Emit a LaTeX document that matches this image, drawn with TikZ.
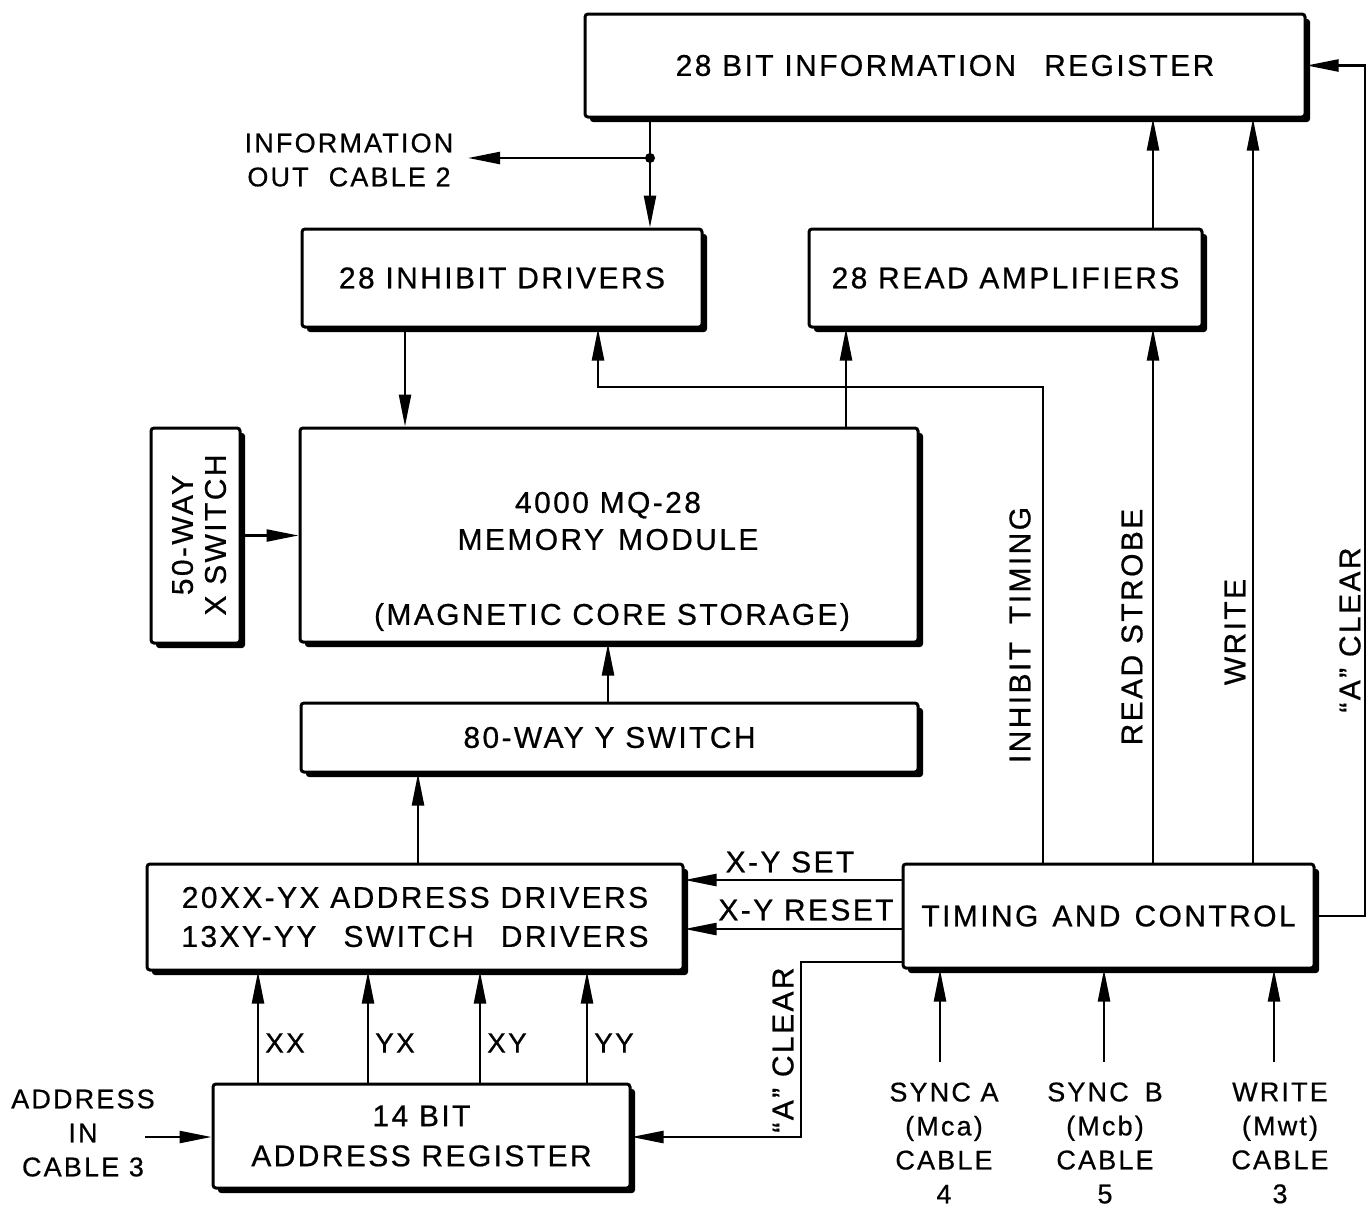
\documentclass[tikz,border=0pt]{standalone}
\usepackage{fontspec}
\setmainfont{Liberation Sans}[LetterSpace=8,FakeBold=0.6]
\usetikzlibrary{shadows,arrows.meta,calc}
\newcommand{\wgap}[1][24pt]{\hspace{#1}}
\tikzset{
 box/.style={draw, line width=3pt, fill=white, rounded corners=3pt, inner sep=0pt, align=center,
   drop shadow={shadow xshift=5pt, shadow yshift=-5pt, opacity=1, fill=black}},
 ln/.style={line width=2.4pt},
 arr/.style={line width=2.4pt, -{Triangle[length=32pt,width=12pt]}},
 lbl/.style={inner sep=0pt, align=center},
 olbl/.style={inner sep=0pt, align=center, font=\fontsize{27}{34}\selectfont},
 sig/.style={inner sep=0pt, anchor=west, font=\fontsize{28}{33}\selectfont},
}
\begin{document}
\begin{tikzpicture}[x=1pt,y=-1pt, font=\fontsize{30}{33}\selectfont]
\useasboundingbox (0,0) rectangle (1368,1210);
\fill[white] (0,0) rectangle (1368,1210);
% boxes
\node[box, minimum width=720pt, minimum height=103pt] (info) at (945,65.5) {28 BIT INFORMATION\wgap[28pt]REGISTER};
\node[box, minimum width=400pt, minimum height=98pt] (inh) at (502,278) {28 INHIBIT DRIVERS};
\node[box, minimum width=393pt, minimum height=98pt] (read) at (1005.5,278) {28 READ AMPLIFIERS};
\node[box, minimum width=618pt, minimum height=214pt] (mem) at (609,535) {};
\node[lbl] (memt1) at (608,521) {4000 MQ-28\\[4pt]MEMORY\wgap[14pt]MODULE};
\node[lbl] (memt2) at (612,617) {(MAGNETIC CORE STORAGE)};
\node[box, minimum width=89pt, minimum height=215pt] (xsw) at (195.5,535.5) {};
\node[lbl, rotate=90] (xswt) at (199,535) {50-WAY\\X SWITCH};
\node[box, minimum width=617pt, minimum height=69pt] (ysw) at (609.5,737.5) {80-WAY Y SWITCH};
\node[box, minimum width=536pt, minimum height=106pt] (adrv) at (415,917) {20XX-YX ADDRESS DRIVERS\\[6pt]13XY-YY\wgap[27pt]SWITCH\wgap[27pt]DRIVERS};
\node[box, minimum width=411pt, minimum height=104pt] (tc) at (1108.5,916) {TIMING\wgap[14pt]AND\wgap[14pt]CONTROL};
\node[box, minimum width=417pt, minimum height=104pt] (areg) at (421.5,1136) {14 BIT\\[7pt]ADDRESS REGISTER};
% labels
\node[olbl] (infoout) at (349,160) {INFORMATION\\OUT\wgap[20pt]CABLE 2};
\node[olbl] (addrin) at (83,1133) {ADDRESS\\IN\\CABLE 3};
\node[olbl] (synca) at (944,1143) {SYNC A\\(Mca)\\CABLE\\4};
\node[olbl] (syncb) at (1105,1143) {SYNC\wgap[16pt]B\\(Mcb)\\CABLE\\5};
\node[olbl] (wrin) at (1280,1143) {WRITE\\(Mwt)\\CABLE\\3};
\node[lbl] (xyset) at (790,862) {X-Y SET};
\node[lbl] (xyreset) at (806,910) {X-Y RESET};
\node[lbl, rotate=90] (itlbl) at (1020,635) {INHIBIT\wgap[18pt]TIMING};
\node[lbl, rotate=90] (rslbl) at (1132,627) {READ STROBE};
\node[lbl, rotate=90] (wrlbl) at (1235,632) {WRITE};
\node[lbl, rotate=90] (aclbl) at (1350,630) {``A'' CLEAR};
\node[lbl, rotate=90] (aclbl2) at (783,1050) {``A'' CLEAR};
% coordinates
\coordinate (j) at (650,158);
\coordinate (ioend) at (468,158);
\coordinate (cRS) at (1153,0);
\coordinate (cW) at (1253,0);
\coordinate (cAC) at (1365,0);
\coordinate (c405) at (405,0);
\coordinate (c846) at (846,0);
\coordinate (itc) at (1043,387);
\coordinate (itl) at (598,387);
\coordinate (c608) at (608,0);
\coordinate (c418) at (418,0);
\coordinate (yS) at (0,880);
\coordinate (yR) at (0,929);
\coordinate (acA) at (801,962);
\coordinate (acB) at (801,1137);
\coordinate (cXX) at (258,0);
\coordinate (cYX) at (368,0);
\coordinate (cXY) at (480,0);
\coordinate (cYY) at (587,0);
\coordinate (ain) at (145,1137);
\coordinate (sa) at (940,1062);
\coordinate (sb) at (1104,1062);
\coordinate (sw) at (1274,1062);
% connectors
\draw[ln] (info.south -| j) -- (j);
\draw[arr] (j) -- (inh.north -| j);
\draw[arr] (j) -- (ioend);
\fill (j) circle (5pt);
\draw[arr] (read.north -| cRS) -- (info.south -| cRS);
\draw[arr] (tc.north -| cW) -- (info.south -| cW);
\draw[arr] (tc.east) -- (tc.east -| cAC) -- (info.east -| cAC) -- (info.east);
\draw[arr] (inh.south -| c405) -- (mem.north -| c405);
\draw[arr] (mem.north -| c846) -- (read.south -| c846);
\draw[arr] (tc.north -| itc) -- (itc) -- (itl) -- (inh.south -| itl);
\draw[arr] (tc.north -| cRS) -- (read.south -| cRS);
\draw[arr] (xsw.east) -- (mem.west |- xsw.east);
\draw[arr] (ysw.north -| c608) -- (mem.south -| c608);
\draw[arr] (adrv.north -| c418) -- (ysw.south -| c418);
\draw[arr] (tc.west |- yS) -- (adrv.east |- yS);
\draw[arr] (tc.west |- yR) -- (adrv.east |- yR);
\draw[arr] (tc.west |- acA) -- (acA) -- (acB) -- (areg.east |- acB);
\foreach \c/\t in {cXX/XX, cYX/YX, cXY/XY, cYY/YY}{
  \draw[arr] (areg.north -| \c) -- (adrv.south -| \c);
  \node[sig] (lbl\t) at ($(\c |- 0,1043)+(7,0)$) {\t};
}
\draw[arr] (ain) -- (areg.west |- ain);
\draw[arr] (sa) -- (tc.south -| sa);
\draw[arr] (sb) -- (tc.south -| sb);
\draw[arr] (sw) -- (tc.south -| sw);
\end{tikzpicture}
\end{document}
